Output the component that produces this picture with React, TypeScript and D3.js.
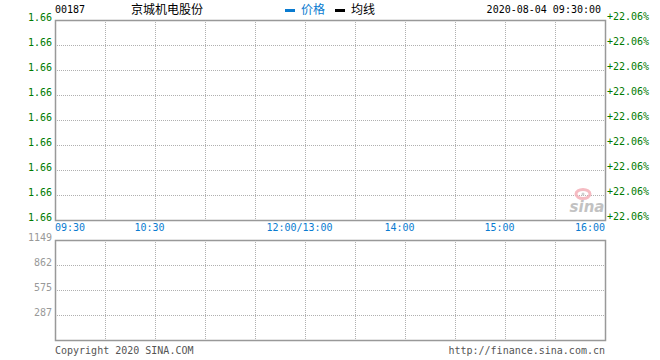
import React from "react";
import * as d3 from "d3";

const stockCode = "00187";
const stockName = "京城机电股份";
const timestamp = "2020-08-04 09:30:00";
const legendItems = ["价格", "均线"];
const priceLabels = ["1.66", "1.66", "1.66", "1.66", "1.66", "1.66", "1.66", "1.66", "1.66"];
const pctLabels = ["+22.06%", "+22.06%", "+22.06%", "+22.06%", "+22.06%", "+22.06%", "+22.06%", "+22.06%", "+22.06%"];
const volumeTicks = [1149, 862, 575, 287];
const volumeMax = 1149;
// minutes from 09:30 (HK session: 9:30-12:00, 13:00-16:00 => 330 minutes)
const timeTicks = [
  { label: "09:30", minute: 0 },
  { label: "10:30", minute: 60 },
  { label: "12:00/13:00", minute: 150 },
  { label: "14:00", minute: 210 },
  { label: "15:00", minute: 270 },
  { label: "16:00", minute: 330 },
];
const verticalGridCount = 11;

const L = 55, R = 605;
const PT = 20, PB = 220;
const VT = 240, VB = 340;
const mono = "'DejaVu Sans Mono', monospace";
const cjk = "'Noto Sans CJK SC', sans-serif";

export default function App() {
  const x = d3.scaleLinear().domain([0, 330]).range([L, R]);
  const gx = d3.scaleLinear().domain([0, verticalGridCount]).range([L, R]);
  const py = d3.scaleLinear().domain([0, priceLabels.length - 1]).range([PT, PB]);
  const vy = d3.scaleLinear().domain([0, volumeMax]).range([VB, VT]);
  const gridColor = "#b0b0b0";
  const vLines = d3.range(1, verticalGridCount);
  return (
    <svg width={660} height={360} style={{ position: "absolute", left: 0, top: 0, background: "#fff" }}>
      <rect width={660} height={360} fill="#fff" />
      {/* header */}
      <text x={55} y={13} fontFamily={mono} fontSize={10} fill="#000">{stockCode}</text>
      <text x={131} y={14} fontFamily={cjk} fontSize={12} fill="#000">{stockName}</text>
      <rect x={285} y={9} width={10} height={3} fill="#0a7bd0" />
      <text x={301} y={14} fontFamily={cjk} fontSize={12} fill="#0a7bd0">{legendItems[0]}</text>
      <rect x={335} y={9} width={10} height={3} fill="#000" />
      <text x={351} y={14} fontFamily={cjk} fontSize={12} fill="#000">{legendItems[1]}</text>
      <text x={601} y={13} textAnchor="end" fontFamily={mono} fontSize={10} fill="#000">{timestamp}</text>

      {/* price grid */}
      {priceLabels.slice(1, -1).map((_, i) => (
        <line key={"ph" + i} x1={L} x2={R} y1={Math.round(py(i + 1)) + 0.5} y2={Math.round(py(i + 1)) + 0.5}
          stroke={gridColor} strokeDasharray="1,1" />
      ))}
      {vLines.map((k) => (
        <line key={"pv" + k} x1={Math.round(gx(k)) + 0.5} x2={Math.round(gx(k)) + 0.5} y1={PT} y2={PB}
          stroke={gridColor} strokeDasharray="1,1" />
      ))}
      <rect x={L + 0.5} y={PT + 0.5} width={R - L} height={PB - PT} fill="none" stroke="#999" strokeWidth={1.5} />
      {priceLabels.map((t, i) => (
        <text key={"pl" + i} x={52} y={Math.round(py(i)) + 1} textAnchor="end" fontFamily={mono} fontSize={10} fill="#007a00">{t}</text>
      ))}
      {pctLabels.map((t, i) => (
        <text key={"pr" + i} x={607} y={Math.round(py(i))} fontFamily={mono} fontSize={10} fill="#007a00">{t}</text>
      ))}
      {timeTicks.map((t, i) => {
        const anchor = i === 0 ? "start" : i === timeTicks.length - 1 ? "end" : "middle";
        const px = i === 0 || i === timeTicks.length - 1 ? x(t.minute) : x(t.minute) - 5.5;
        return (
          <text key={"tt" + i} x={px} y={231} textAnchor={anchor} fontFamily={mono} fontSize={10} fill="#0a7bd0">{t.label}</text>
        );
      })}

      {/* sina watermark */}
      <g opacity={0.85}>
        <ellipse cx={583} cy={194} rx={7} ry={4.5} fill="none" stroke="#f4b0b8" strokeWidth={3} />
        <circle cx={583} cy={194} r={1.5} fill="#c8c8c8" />
        <text x={587} y={212} textAnchor="middle" fontFamily="'DejaVu Sans', sans-serif" fontWeight="bold" fontStyle="italic" fontSize={15} fill="#b8b8b8">sina</text>
      </g>

      {/* volume grid */}
      {volumeTicks.slice(1).map((v, i) => (
        <line key={"vh" + i} x1={L} x2={R} y1={Math.round(vy(v)) + 0.5} y2={Math.round(vy(v)) + 0.5}
          stroke={gridColor} strokeDasharray="1,1" />
      ))}
      {vLines.map((k) => (
        <line key={"vv" + k} x1={Math.round(gx(k)) + 0.5} x2={Math.round(gx(k)) + 0.5} y1={VT} y2={VB}
          stroke={gridColor} strokeDasharray="1,1" />
      ))}
      <rect x={L + 0.5} y={VT + 0.5} width={R - L} height={VB - VT} fill="none" stroke="#999" strokeWidth={1.5} />
      {volumeTicks.map((v, i) => (
        <text key={"vl" + i} x={52} y={Math.round(vy(v)) + 1} textAnchor="end" fontFamily={mono} fontSize={10} fill="#999">{v}</text>
      ))}

      {/* footer */}
      <text x={55} y={354} fontFamily={mono} fontSize={10} fill="#555">Copyright 2020 SINA.COM</text>
      <text x={605} y={354} textAnchor="end" fontFamily={mono} fontSize={10} fill="#555">http://finance.sina.com.cn</text>
    </svg>
  );
}
